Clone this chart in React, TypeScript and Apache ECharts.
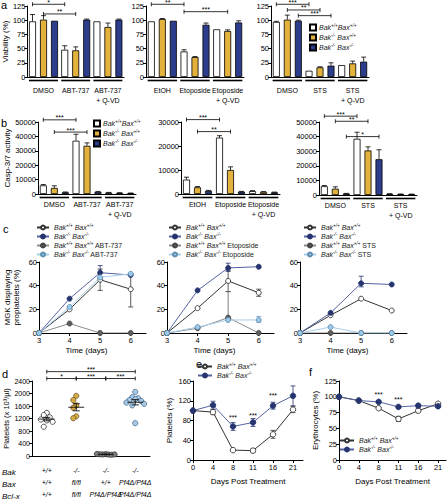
import { useEffect, useRef } from 'react';
import * as echarts from 'echarts';

const FONT = '"Liberation Sans", Arial, Helvetica, sans-serif';
const BAR_W = 7;
const BAR_PITCH = 11;
const BAR_FILL = ['#ffffff', '#E2B23C', '#2C3D8C'];

// ---------- panel a ----------
const a1Cats = ['DMSO', 'ABT-737', 'ABT-737\n+ Q-VD'];
const a1Vals = [[98, 48, 98], [101, 47, 88], [99, 101, 101]];
const a1Errs = [[12, 7, 0], [7, 6, 7], [0, 1, 1]];
const a1Brackets = [[0, 0, 1, 0, 128], [0, 1, 1, 1, 111]];
const a1Stars = ['*', '**'];

const a2Cats = ['EtOH', 'Etoposide', 'Etoposide\n+ Q-VD'];
const a2Vals = [[98, 45, 84], [102, 35, 81], [99, 92, 96]];
const a2Errs = [[0, 3, 0], [1, 1, 2], [0, 3, 3]];
const a2Brackets = [[0, 0, 1, 0, 128], [1, 0, 2, 1, 115]];
const a2Stars = ['**', '***'];

const a3Cats = ['DMSO', 'STS', 'STS\n+ Q-VD'];
const a3Vals = [[97, 11, 21], [101, 17, 24], [99, 20, 27]];
const a3Errs = [[1, 0, 0], [8, 1, 4], [1, 5, 8]];
const a3Brackets = [[0, 0, 1, 0, 128], [0, 1, 1, 1, 118], [0, 2, 1, 2, 108]];
const a3Stars = ['***', '**', '***'];

// ---------- panel b ----------
const b1Cats = ['DMSO', 'ABT-737', 'ABT-737\n+ Q-VD'];
const b1Vals = [[6000, 37000, 1000], [4200, 33500, 800], [1200, 1500, 600]];
const b1Errs = [[600, 4500, 100], [1500, 2000, 100], [200, 300, 100]];
const b1Brackets = [[0, 0, 1, 0, 51500], [0, 1, 1, 1, 43000]];
const b1Stars = ['***', '***'];

const b2Cats = ['EtOH', 'Etoposide', 'Etoposide\n+ Q-VD'];
const b2Vals = [[6000, 23500, 1200], [2800, 10000, 900], [1300, 1000, 700]];
const b2Errs = [[1000, 800, 200], [300, 1300, 100], [200, 100, 100]];
const b2Brackets = [[0, 0, 1, 0, 31000], [0, 1, 1, 1, 26000]];
const b2Stars = ['***', '**'];

const b3Cats = ['DMSO', 'STS', 'STS\n+ Q-VD'];
const b3Vals = [[6000, 38500, 800], [4300, 30500, 600], [1000, 24500, 500]];
const b3Errs = [[500, 4500, 100], [1300, 2500, 100], [100, 6500, 100]];
const b3Brackets = [[0, 0, 1, 0, 54000], [0, 1, 1, 1, 50500], [0, 2, 1, 2, 40000]];
const b3Stars = ['***', '**', '*'];

// ---------- panel c ----------
const cDays = [3, 4, 5, 6];
const c1Vals = [[0, 20, 45, 37], [0, 29, 51, 49], [0, 8, 0, 0], [0, 22, 47, 50]];
const c1Errs = [[0, 5, 36, 54], [0, 6, 22, 50], [1, 5, 46, 57]];
const c2Vals = [[0, 21, 44, 34], [0, 36, 55, 56], [0, 4, 13, 0], [0, 5, 11, 11]];
const c2Errs = [[0, 5, 35, 53], [0, 6, 31, 37], [1, 5, 52, 59], [2, 5, 13, 35], [3, 6, 9, 14]];
const c3Vals = [[0, 15, 29, 19], [0, 17, 42, 41], [0, 0, 0, 0], [0, 5, 0, 0]];
const c3Errs = [[1, 5, 39, 48]];
const cDrugs = ['ABT-737', 'Etoposide', 'STS'];

// ---------- panel d ----------
const dBak = ['+/+', '-/-', '-/-', '-/-'];
const dBax = ['+/+', 'fl/fl', '+/+', 'Pf4Δ/Pf4Δ'];
const dBclx = ['+/+', 'fl/fl', 'Pf4Δ/Pf4Δ', 'Pf4Δ/Pf4Δ'];
const dWT = [1380, 1310, 1240, 1170, 1140, 1095, 935];
const dBaxFl = [1925, 1790, 1620, 1545, 1270, 1210];
const dBclPf4 = [60, 50, 45, 55, 40, 65, 50];
const dDKOPf4 = [2050, 1880, 1850, 1820, 1790, 1760, 1710, 1670, 1620, 1050];
const dBrackets = [[0, 3, 2700], [0, 1, 2480], [1, 2, 2480], [2, 3, 2480]];
const dStars = ['***', '*', '***', '***'];

// ---------- panel e / f ----------
const days = ['0', '4', '8', '11', '16', '21'];
const eWT = [100, 97, 20, 19, 52, 102];
const eWTErr = [0, 5, 2, 4, 8, 6];
const eDKO = [100, 111, 68, 76, 110, 130];
const eDKOErr = [0, 8, 8, 8, 7, 20];
const eStars = [[2, 87], [3, 90], [4, 130]];
const fWT = [100, 94, 82, 65, 78, 89];
const fWTErr = [0, 2, 2, 4, 3, 2];
const fDKO = [100, 94, 92, 84, 86, 85];
const fDKOErr = [0, 1, 2, 2, 2, 2];
const fStars = [[2, 104], [3, 95]];

// ---------- labels ----------
const genoBar = ['{i|Bak}{s|+/+}{i|Bax}{s|+/+}', '{i|Bak}{s|-/-}{i| Bax}{s|+/+}', '{i|Bak}{s|-/-}{i| Bax}{s|-/-}'];
const genoLine = ['{i|Bak}{s|+/+}{i| Bax}{s|+/+}', '{i|Bak}{s|-/-}{i| Bax}{s|-/-}'];

const NAVY = '#26346F';
const NAVY_LINE = '#5563A3';
const LBLUE = '#9ECBEA';
const LBLUE_LINE = '#A8CFEA';
const GRAY = '#5E5E5E';
const GRAY_LINE = '#8C8C8C';

const rich: any = {
  i: { fontStyle: 'italic', fontSize: 7, lineHeight: 9, fontFamily: FONT, color: '#222' },
  s: { fontStyle: 'italic', fontSize: 4.6, lineHeight: 5, verticalAlign: 'top', fontFamily: FONT, color: '#222' },
  n: { fontSize: 7, lineHeight: 9, fontFamily: FONT, color: '#222' },
};

const lbl = { color: '#000', fontSize: 7.5, fontFamily: FONT };
const plain = (v: number) => String(v);

function buildOption() {
  const grid: any[] = [];
  const xAxis: any[] = [];
  const yAxis: any[] = [];
  const series: any[] = [];
  const legend: any[] = [];
  const legendMap: Record<string, string> = {};

  const axisLine = { show: true, lineStyle: { color: '#000', width: 1 } };
  const axisTick = { show: true, length: 3, lineStyle: { color: '#000', width: 1 } };

  function bracketSeries(xi: number, yi: number, data: number[][], stars: string[], pitch: number) {
    series.push({
      type: 'custom', xAxisIndex: xi, yAxisIndex: yi, z: 5, silent: true,
      encode: { x: 0, y: 4 },
      data,
      renderItem: (params: any, api: any) => {
        const y = api.value(4);
        const p1 = api.coord([api.value(0), y]);
        const p2 = api.coord([api.value(2), y]);
        const x1 = p1[0] + (api.value(1) - 1) * pitch;
        const x2 = p2[0] + (api.value(3) - 1) * pitch;
        const yy = p1[1];
        const st = { stroke: '#000', lineWidth: 0.8 };
        return {
          type: 'group', children: [
            { type: 'line', shape: { x1, y1: yy, x2, y2: yy }, style: st },
            { type: 'line', shape: { x1, y1: yy - 2, x2: x1, y2: yy + 2 }, style: st },
            { type: 'line', shape: { x1: x2, y1: yy - 2, x2, y2: yy + 2 }, style: st },
            { type: 'text', x: (x1 + x2) / 2, y: yy + 1.5, style: { text: stars[params.dataIndex], fontSize: 7, fontFamily: FONT, fill: '#000', align: 'center', verticalAlign: 'bottom' } },
          ],
        };
      },
    });
  }

  function barPanel(key: string, rect: number[], cats: string[], vals: number[][], errs: number[][], brk: number[][], stars: string[], yMax: number, yInt: number, yName: string, nameGap: number, labelMargin: number, ulOff: number) {
    const gi = grid.length;
    grid.push({ left: rect[0], top: rect[1], width: rect[2], height: rect[3] });
    xAxis.push({
      type: 'category', gridIndex: gi, data: cats, axisLine, axisTick: { show: false },
      axisLabel: { ...lbl, fontSize: 7, margin: labelMargin, lineHeight: 9.5, interval: 0 }, splitLine: { show: false },
    });
    yAxis.push({
      type: 'value', gridIndex: gi, min: 0, max: yMax, interval: yInt, axisLine, axisTick,
      axisLabel: { ...lbl, margin: 2, formatter: plain }, splitLine: { show: false },
      name: yName, nameLocation: 'middle', nameGap, nameTextStyle: { color: '#000', fontSize: 8, fontFamily: FONT },
    });
    const xi = xAxis.length - 1;
    const yi = yAxis.length - 1;
    vals.forEach((row, k) => {
      series.push({
        type: 'bar', name: `${key}-${k}`, xAxisIndex: xi, yAxisIndex: yi, data: row,
        barWidth: BAR_W, barGap: '57%',
        itemStyle: { color: BAR_FILL[k], borderColor: '#000', borderWidth: 0.8 },
      });
    });
    const errData: number[][] = [];
    errs.forEach((row, k) => row.forEach((e, g) => { if (e > 0) errData.push([g, k, vals[k][g], e]); }));
    series.push({
      type: 'custom', xAxisIndex: xi, yAxisIndex: yi, z: 4, silent: true, encode: { x: 0, y: 2 }, data: errData,
      renderItem: (params: any, api: any) => {
        const g = api.value(0), k = api.value(1), v = api.value(2), e = api.value(3);
        const b = api.coord([g, v]);
        const t = api.coord([g, v + e]);
        const x = b[0] + (k - 1) * BAR_PITCH;
        const st = { stroke: '#000', lineWidth: 0.8 };
        return {
          type: 'group', children: [
            { type: 'line', shape: { x1: x, y1: b[1], x2: x, y2: t[1] }, style: st },
            { type: 'line', shape: { x1: x - 2.5, y1: t[1], x2: x + 2.5, y2: t[1] }, style: st },
          ],
        };
      },
    });
    series.push({
      type: 'custom', xAxisIndex: xi, yAxisIndex: yi, z: 4, silent: true, encode: { x: 0, y: 1 },
      data: cats.map((_, g) => [g, 0]),
      renderItem: (params: any, api: any) => {
        const c = api.coord([api.value(0), 0]);
        const band = api.size([1, 0])[0];
        return { type: 'line', shape: { x1: c[0] - band * 0.45, y1: c[1] + ulOff, x2: c[0] + band * 0.45, y2: c[1] + ulOff }, style: { stroke: '#000', lineWidth: 1.6 } };
      },
    });
    bracketSeries(xi, yi, brk, stars, BAR_PITCH);
  }

  function errSeries(xi: number, yi: number, data: number[][], color: string, cap: number, z = 1) {
    series.push({
      type: 'custom', xAxisIndex: xi, yAxisIndex: yi, z, silent: true, encode: { x: 0, y: 1 }, data,
      renderItem: (params: any, api: any) => {
        const x = api.value(0);
        const p1 = api.coord([x, api.value(1)]);
        const p2 = api.coord([x, api.value(2)]);
        const st = { stroke: color, lineWidth: 0.8 };
        return {
          type: 'group', children: [
            { type: 'line', shape: { x1: p1[0], y1: p1[1], x2: p2[0], y2: p2[1] }, style: st },
            { type: 'line', shape: { x1: p1[0] - cap, y1: p1[1], x2: p1[0] + cap, y2: p1[1] }, style: st },
            { type: 'line', shape: { x1: p2[0] - cap, y1: p2[1], x2: p2[0] + cap, y2: p2[1] }, style: st },
          ],
        };
      },
    });
  }

  function starSeries(xi: number, yi: number, data: number[][]) {
    series.push({
      type: 'custom', xAxisIndex: xi, yAxisIndex: yi, z: 6, silent: true, encode: { x: 0, y: 1 }, data,
      renderItem: (params: any, api: any) => {
        const p = api.coord([api.value(0), api.value(1)]);
        return { type: 'text', x: p[0], y: p[1], style: { text: '***', fontSize: 7, fontFamily: FONT, fill: '#000', align: 'center', verticalAlign: 'middle' } };
      },
    });
  }

  const lineStyles = [
    { fill: '#ffffff', stroke: '#333333', line: '#333333' },
    { fill: NAVY, stroke: NAVY, line: NAVY_LINE },
    { fill: GRAY, stroke: '#444444', line: GRAY_LINE },
    { fill: LBLUE, stroke: '#5E8DB0', line: LBLUE_LINE },
  ];
  const errColors = ['#333333', NAVY, GRAY, '#6FA0C4'];

  // ----- a -----
  barPanel('a1', [26, 6, 98, 71], a1Cats, a1Vals, a1Errs, a1Brackets, a1Stars, 125, 25, 'Viability (%)', 14, 9, 3.5);
  barPanel('a2', [146, 6, 98, 71], a2Cats, a2Vals, a2Errs, a2Brackets, a2Stars, 125, 25, '', 14, 9, 3.5);
  barPanel('a3', [271, 6, 98, 71], a3Cats, a3Vals, a3Errs, a3Brackets, a3Stars, 125, 25, '', 14, 9, 3.5);
  // ----- b -----
  barPanel('b1', [38, 122, 98, 72], b1Cats, b1Vals, b1Errs, b1Brackets, b1Stars, 50000, 10000, 'Casp-3/7 activity', 26, 6, 3.5);
  barPanel('b2', [181, 122, 99, 72], b2Cats, b2Vals, b2Errs, b2Brackets, b2Stars, 30000, 10000, '', 26, 6, 3.5);
  barPanel('b3', [319, 122, 98, 73], b3Cats, b3Vals, b3Errs, b3Brackets, b3Stars, 50000, 10000, '', 26, 6, 3.5);

  ['a3-0', 'a3-1', 'a3-2'].forEach((n, k) => { legendMap[n] = genoBar[k]; });
  ['b1-0', 'b1-1', 'b1-2'].forEach((n, k) => { legendMap[n] = genoBar[k]; });
  const barLegend = (names: string[], left: number, top: number) => ({
    left, top, orient: 'vertical', icon: 'rect', itemWidth: 6, itemHeight: 6, itemGap: 1.5, padding: 0,
    selectedMode: false, data: names, formatter: (n: string) => legendMap[n], textStyle: { rich, fontSize: 7, padding: [0, 0, 0, -2] },
  });
  legend.push(barLegend(['a3-0', 'a3-1', 'a3-2'], 309, 23));
  legend.push(barLegend(['b1-0', 'b1-1', 'b1-2'], 93, 119));

  // ----- c -----
  const cRects = [[39, 262, 107, 71], [167, 262, 107, 71], [300, 262, 107, 71]];
  const cVals = [c1Vals, c2Vals, c3Vals];
  const cErrs = [c1Errs, c2Errs, c3Errs];
  const cLegendPos = [[36, 223], [168, 223], [303, 223]];
  cRects.forEach((rect, p) => {
    const gi = grid.length;
    grid.push({ left: rect[0], top: rect[1], width: rect[2], height: rect[3] });
    xAxis.push({
      type: 'value', gridIndex: gi, min: 3, max: 6.5, interval: 1, axisLine,
      axisTick: { ...axisTick, customValues: cDays }, axisLabel: { ...lbl, margin: 3, customValues: cDays },
      splitLine: { show: false },
      name: 'Time (days)', nameLocation: 'middle', nameGap: 13, nameTextStyle: { color: '#000', fontSize: 8, fontFamily: FONT, padding: [0, 0, 0, -12] },
    });
    yAxis.push({
      type: 'value', gridIndex: gi, min: 0, max: 60, interval: 20, axisLine, axisTick,
      axisLabel: { ...lbl, margin: 2 }, splitLine: { show: false },
      name: p === 0 ? 'MGK displaying\nproplatelets (%)' : '', nameLocation: 'middle', nameGap: 18,
      nameTextStyle: { color: '#000', fontSize: 8, fontFamily: FONT, lineHeight: 9 },
    });
    const xi = xAxis.length - 1;
    const yi = yAxis.length - 1;
    const names: string[] = [];
    const order = [2, 3, 0, 1];
    order.forEach((k) => {
      const st = lineStyles[k];
      const name = `c${p + 1}-${k}`;
      series.push({
        type: 'line', name, xAxisIndex: xi, yAxisIndex: yi, z: 3 + k,
        data: cDays.map((d, i) => [d, cVals[p][k][i]]),
        symbol: 'circle', symbolSize: 5,
        lineStyle: { color: st.line, width: 1 },
        itemStyle: { color: st.fill, borderColor: st.stroke, borderWidth: 0.9 },
      });
    });
    [0, 1, 2, 3].forEach((k) => {
      const name = `c${p + 1}-${k}`;
      names.push(name);
      legendMap[name] = k < 2 ? genoLine[k] : `${genoLine[k - 2]}{n| ${cDrugs[p]}}`;
    });
    [0, 1, 2, 3].forEach((k) => {
      const ed = cErrs[p].filter((r) => r[0] === k).map((r) => [r[1], r[2], r[3]]);
      if (ed.length) errSeries(xi, yi, ed, errColors[k], 2.5, 2);
    });
    legend.push({
      left: cLegendPos[p][0], top: cLegendPos[p][1], orient: 'vertical', itemWidth: 12, itemHeight: 5, itemGap: 1, padding: 0,
      selectedMode: false, data: names, formatter: (n: string) => legendMap[n], textStyle: { rich, fontSize: 7 },
    });
  });

  // ----- d -----
  {
    const gi = grid.length;
    grid.push({ left: 32, top: 381, width: 118, height: 79 });
    xAxis.push({
      type: 'category', gridIndex: gi, data: dBak.map((b, i) => `${b}\n${dBax[i]}\n${dBclx[i]}`), axisLine, axisTick: { show: false },
      axisLabel: { ...lbl, fontSize: 7, fontStyle: 'italic', margin: 8, lineHeight: 12, interval: 0 }, splitLine: { show: false },
    });
    yAxis.push({
      type: 'value', gridIndex: gi, min: 0, max: 2400, interval: 400, axisLine, axisTick,
      axisLabel: { ...lbl, fontSize: 7, margin: 2, formatter: plain }, splitLine: { show: false },
      name: 'Platelets (x 10³/µl)', nameLocation: 'middle', nameGap: 20, nameTextStyle: { color: '#000', fontSize: 7.5, fontFamily: FONT },
    });
    const xi = xAxis.length - 1;
    const yi = yAxis.length - 1;
    const groups = [dWT, dBaxFl, dBclPf4, dDKOPf4];
    const fills = ['#ffffff', '#D8AC48', '#7A7A7A', '#AACBE6'];
    const strokes = ['#333333', '#6E5518', '#333333', '#44698C'];
    const swarm = (vals: number[]) => {
      const placed: { v: number; o: number }[] = [];
      return vals.map((v) => {
        for (let k = 0; k < 40; k++) {
          const off = k === 0 ? 0 : (k % 2 ? -1 : 1) * Math.ceil(k / 2) * 0.1;
          if (!placed.some((p) => Math.abs(p.v - v) < 230 && Math.abs(p.o - off) < 0.099)) { placed.push({ v, o: off }); return off; }
        }
        return 0;
      });
    };
    const pts: number[][] = [];
    const stats: number[][] = [];
    groups.forEach((vals, g) => {
      const offs = swarm(vals);
      vals.forEach((v, i) => pts.push([g, v, offs[i]]));
      const m = vals.reduce((s, v) => s + v, 0) / vals.length;
      const sd = Math.sqrt(vals.reduce((s, v) => s + (v - m) * (v - m), 0) / (vals.length - 1));
      stats.push([g, m, sd / Math.sqrt(vals.length)]);
    });
    series.push({
      type: 'custom', xAxisIndex: xi, yAxisIndex: yi, z: 3, silent: true, encode: { x: 0, y: 1 }, data: pts,
      renderItem: (params: any, api: any) => {
        const g = api.value(0);
        const c = api.coord([g, api.value(1)]);
        const band = api.size([1, 0])[0];
        return { type: 'circle', shape: { cx: c[0] + api.value(2) * band, cy: c[1], r: 2.6 }, style: { fill: fills[g], stroke: strokes[g], lineWidth: 0.8 } };
      },
    });
    series.push({
      type: 'custom', xAxisIndex: xi, yAxisIndex: yi, z: 4, silent: true, encode: { x: 0, y: 1 }, data: stats,
      renderItem: (params: any, api: any) => {
        const g = api.value(0), m = api.value(1), se = api.value(2);
        const c = api.coord([g, m]);
        const lo = api.coord([g, m - se]);
        const hi = api.coord([g, m + se]);
        const band = api.size([1, 0])[0];
        const st = { stroke: '#111', lineWidth: 0.9 };
        const w = band * 0.27, cw = band * 0.12;
        return {
          type: 'group', children: [
            { type: 'line', shape: { x1: c[0] - w, y1: c[1], x2: c[0] + w, y2: c[1] }, style: st },
            { type: 'line', shape: { x1: c[0], y1: lo[1], x2: c[0], y2: hi[1] }, style: st },
            { type: 'line', shape: { x1: c[0] - cw, y1: lo[1], x2: c[0] + cw, y2: lo[1] }, style: st },
            { type: 'line', shape: { x1: c[0] - cw, y1: hi[1], x2: c[0] + cw, y2: hi[1] }, style: st },
          ],
        };
      },
    });
    bracketSeries(xi, yi, dBrackets.map((r) => [r[0], 1, r[1], 1, r[2]]), dStars, 0);
  }

  // ----- e & f -----
  const efPanels = [
    { rect: [193, 381, 110, 79], max: 5.5, yMax: 160, yInt: 40, yName: 'Platelets (%)', wt: eWT, wtE: eWTErr, ko: eDKO, koE: eDKOErr, stars: eStars, key: 'e', leg: [197, 362] },
    { rect: [339, 381, 107, 79], max: 5.4, yMax: 125, yInt: 25, yName: 'Erythrocytes (%)', wt: fWT, wtE: fWTErr, ko: fDKO, koE: fDKOErr, stars: fStars, key: 'f', leg: [339, 436] },
  ];
  const dayIdx = days.map((_, i) => i);
  efPanels.forEach((P) => {
    const gi = grid.length;
    grid.push({ left: P.rect[0], top: P.rect[1], width: P.rect[2], height: P.rect[3] });
    xAxis.push({
      type: 'value', gridIndex: gi, min: 0, max: P.max, interval: 1, axisLine,
      axisTick: { ...axisTick, customValues: dayIdx },
      axisLabel: { ...lbl, margin: 3, customValues: dayIdx, formatter: (v: number) => days[Math.round(v)] ?? '' },
      splitLine: { show: false },
      name: 'Days Post Treatment', nameLocation: 'middle', nameGap: 17, nameTextStyle: { color: '#000', fontSize: 8, fontFamily: FONT },
    });
    yAxis.push({
      type: 'value', gridIndex: gi, min: 0, max: P.yMax, interval: P.yInt, axisLine, axisTick,
      axisLabel: { ...lbl, margin: 2 }, splitLine: { show: false },
      name: P.yName, nameLocation: 'middle', nameGap: 20, nameTextStyle: { color: '#000', fontSize: 8, fontFamily: FONT },
    });
    const xi = xAxis.length - 1;
    const yi = yAxis.length - 1;
    errSeries(xi, yi, P.wt.map((v, i) => [i, v - P.wtE[i], v + P.wtE[i]]).filter((_, i) => P.wtE[i] > 0), '#333333', 2.5, 1);
    errSeries(xi, yi, P.ko.map((v, i) => [i, v - P.koE[i], v + P.koE[i]]).filter((_, i) => P.koE[i] > 0), NAVY, 2.5, 1);
    const n0 = `${P.key}-0`, n1 = `${P.key}-1`;
    legendMap[n0] = genoLine[0];
    legendMap[n1] = genoLine[1];
    series.push({
      type: 'line', name: n0, xAxisIndex: xi, yAxisIndex: yi, z: 3, data: P.wt.map((v, i) => [i, v]),
      symbol: 'circle', symbolSize: 5.5, lineStyle: { color: '#333333', width: 1 },
      itemStyle: { color: '#ffffff', borderColor: '#333333', borderWidth: 0.9 },
    });
    series.push({
      type: 'line', name: n1, xAxisIndex: xi, yAxisIndex: yi, z: 4, data: P.ko.map((v, i) => [i, v]),
      symbol: 'circle', symbolSize: 5.5, lineStyle: { color: NAVY_LINE, width: 1 },
      itemStyle: { color: NAVY, borderColor: NAVY, borderWidth: 0.9 },
    });
    starSeries(xi, yi, P.stars);
    legend.push({
      left: P.leg[0], top: P.leg[1], orient: 'vertical', itemWidth: 14, itemHeight: 5, itemGap: 1, padding: 0,
      selectedMode: false, data: [n0, n1], formatter: (n: string) => legendMap[n], textStyle: { rich, fontSize: 7 },
    });
  });

  const letter = (t: string, x: number, y: number) => ({
    type: 'text', x, y, style: { text: t, fontSize: 11, fontFamily: FONT, fill: '#000', verticalAlign: 'middle' },
  });
  const rowName = (t: string, y: number) => ({
    type: 'text', x: 2, y, style: { text: t, fontSize: 8, fontStyle: 'italic', fontFamily: FONT, fill: '#000', verticalAlign: 'middle' },
  });

  return {
    animation: false,
    backgroundColor: '#ffffff',
    textStyle: { fontFamily: FONT },
    grid, xAxis, yAxis, series, legend,
    graphic: [
      letter('a', 1, 5), letter('b', 1, 123), letter('c', 3, 229), letter('d', 2, 374), letter('e', 196, 364), letter('f', 309, 372),
      rowName('Bak', 472), rowName('Bax', 484), rowName('Bcl-x', 496),
    ],
  };
}

export default function App() {
  const ref = useRef<HTMLDivElement>(null);
  useEffect(() => {
    document.body.style.margin = '0';
    const chart = echarts.init(ref.current!, null, { renderer: 'svg' });
    chart.setOption(buildOption() as any);
    return () => chart.dispose();
  }, []);
  return <div ref={ref} style={{ width: 448, height: 500 }} />;
}
